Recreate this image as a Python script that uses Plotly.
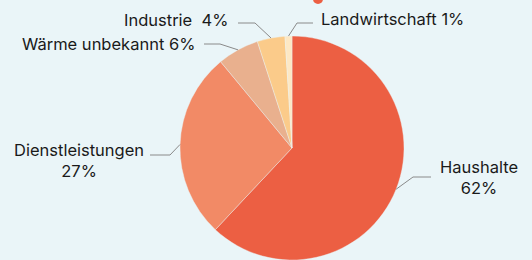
import math
import plotly.graph_objects as go

W, H = 532, 260

categories = ["Haushalte", "Dienstleistungen", "Wärme unbekannt", "Industrie", "Landwirtschaft"]
values = [62, 27, 6, 4, 1]
label_texts = ["Haushalte<br>62%", "Dienstleistungen<br>27%", "Wärme unbekannt 6%", "Industrie  4%", "Landwirtschaft 1%"]
colors = ["#EC5F43", "#F28A66", "#E9B08E", "#FBCB8A", "#FDE8C4"]

BG = "#EAF5F8"
# pie geometry (pixels)
CX, CY, R = 292, 148, 112

# label layout: (text x, text y, xanchor, elbow x, elbow y, line end x)
label_layout = [
    (439, 177, "left", 413, 177, 431),
    (145, 160, "right", 170, 155, 150),
    (196, 44, "right", 220, 44, 204),
    (229, 20, "right", 255, 23, 238),
    (320, 19, "left", 297, 23, 313),
]

def px(x):
    return x / W

def py(y):
    return 1 - y / H

fig = go.Figure(go.Pie(
    labels=categories,
    values=values,
    sort=False,
    direction="clockwise",
    rotation=0,
    marker=dict(colors=colors, line=dict(color=BG, width=0.4)),
    textinfo="none",
    hoverinfo="label+percent",
    domain=dict(x=[(CX - R) / W, (CX + R) / W], y=[1 - (CY + R) / H, 1 - (CY - R) / H]),
    showlegend=False,
))

total = sum(values)
cum = 0
shapes = []
annotations = []
for i, v in enumerate(values):
    mid = (cum + v / 2) / total * 2 * math.pi
    cum += v
    ax = CX + R * math.sin(mid)
    ay = CY - R * math.cos(mid)
    tx, ty, xa, ex, ey, lx = label_layout[i]
    path = f"M {px(ax)} {py(ay)} L {px(ex)} {py(ey)} L {px(lx)} {py(ey)}"
    shapes.append(dict(type="path", xref="paper", yref="paper", path=path,
                       line=dict(color="#8A8A8A", width=1)))
    annotations.append(dict(xref="paper", yref="paper", x=px(tx), y=py(ty),
                            xanchor=xa, yanchor="middle", text=label_texts[i],
                            showarrow=False, align="center", borderpad=0,
                            font=dict(family="Inter, sans-serif", size=16.5, color="#1A1A1A")))

# small red decoration partly visible at the top edge
shapes.append(dict(type="circle", xref="paper", yref="paper",
                   x0=px(313), x1=px(323), y0=py(4), y1=py(-6),
                   fillcolor="#EC5F43", line=dict(width=0)))

fig.update_layout(
    width=W, height=H,
    margin=dict(l=0, r=0, t=0, b=0),
    paper_bgcolor=BG, plot_bgcolor=BG,
    shapes=shapes, annotations=annotations,
)

fig.write_html("out.html", config={"displayModeBar": False},
               post_script="document.body.style.margin='0';document.body.style.background='" + BG + "';")
